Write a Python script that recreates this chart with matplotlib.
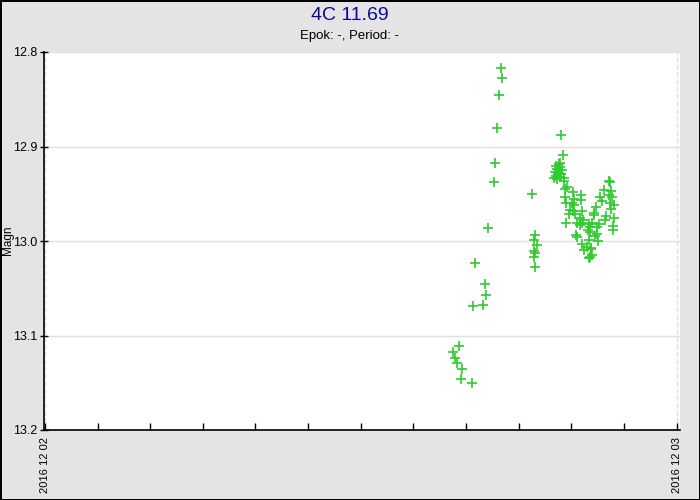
import matplotlib
matplotlib.use("Agg")
import matplotlib.pyplot as plt
import matplotlib.dates as mdates
import numpy as np
import datetime as dt

plt.rcParams['font.family'] = ['Liberation Sans', 'DejaVu Sans']

title = "4C 11.69"
subtitle = "Epok: -, Period: -"
ylabel = "Magn"
start_day = dt.datetime(2016, 12, 2)
x_tick_labels = ["2016 12 02", "2016 12 03"]
y_ticks = [12.8, 12.9, 13.0, 13.1, 13.2]

# hours after 2016-12-02 00:00 (UT)
hours = [
    15.72, 15.49, 15.57, 15.64, 15.83, 15.79, 16.21,
    16.33, 16.71, 16.74, 16.25, 16.63, 16.82,
    17.05, 17.09, 17.16, 17.24, 17.31, 17.38,
    18.49, 18.63, 18.57, 18.68, 18.56, 18.61, 18.57, 18.61,
    19.62,
    19.67, 19.58, 19.51, 19.43, 19.58, 19.47, 19.54, 19.66, 19.39, 19.51,
    19.62, 19.43, 19.35, 19.47, 19.58, 19.71, 19.70, 19.84, 19.74, 20.07,
    20.36, 19.74, 20.09, 20.37, 19.78, 20.01, 20.11, 19.94, 20.07, 20.39,
    19.89, 20.15, 20.31, 20.44, 19.81, 20.22, 20.40, 20.67, 20.77, 20.31,
    20.69, 20.62, 20.72, 20.16, 20.23, 20.65, 20.39, 20.59, 20.49, 20.75,
    20.69, 20.79, 20.66,
    21.44, 21.51, 21.23, 21.08, 21.42, 21.55, 21.47, 21.60, 21.52, 20.94,
    20.86, 20.84, 21.30, 21.27, 21.60, 21.57, 21.57, 21.04, 20.99, 20.96,
    20.91, 21.01, 20.76, 21.45, 21.18,
]
magn = [
    13.111, 13.117, 13.124, 13.129, 13.135, 13.146, 13.150,
    13.023, 13.045, 13.057, 13.069, 13.068, 12.986,
    12.938, 12.917, 12.880, 12.846, 12.817, 12.828,
    12.950, 12.994, 12.999, 13.004, 13.011, 13.013, 13.017, 13.027,
    12.888,
    12.909, 12.917, 12.919, 12.921, 12.922, 12.924, 12.925, 12.925, 12.927, 12.928,
    12.929, 12.931, 12.933, 12.934, 12.932, 12.933, 12.937, 12.943, 12.945, 12.948,
    12.951, 12.953, 12.956, 12.957, 12.960, 12.960, 12.962, 12.967, 12.968, 12.968,
    12.971, 12.971, 12.976, 12.978, 12.981, 12.981, 12.981, 12.982, 12.981, 12.983,
    12.985, 12.988, 12.991, 12.994, 12.996, 12.999, 13.003, 13.006, 13.009, 13.008,
    13.017, 13.015, 13.018,
    12.937, 12.947, 12.946, 12.953, 12.951, 12.953, 12.960, 12.962, 12.966, 12.964,
    12.970, 12.972, 12.974, 12.978, 12.976, 12.984, 12.988, 12.982, 12.985, 12.993,
    12.995, 13.000, 13.007, 12.938, 12.958,
]

times = [start_day + dt.timedelta(hours=h) for h in hours]

fig = plt.figure(figsize=(7, 5), dpi=100, facecolor='#e4e4e4',
                 edgecolor='black', linewidth=2)
ax = fig.add_axes([0.063, 0.14, 0.909, 0.756])
ax.set_facecolor('white')

ax.plot(times, magn, linestyle='none', marker='+', markersize=7,
        markeredgewidth=1.2, color='#2ecc2e', zorder=3)

ax.set_ylim(13.2, 12.8)
ax.set_yticks(y_ticks)
ax.set_yticklabels([f"{v:.1f}" for v in y_ticks], fontsize=9)
ax.set_xlim(start_day - dt.timedelta(hours=0.03),
            start_day + dt.timedelta(hours=24.14))
ax.set_xticks([start_day, start_day + dt.timedelta(days=1)])
ax.set_xticklabels(x_tick_labels, rotation=90, fontsize=8)
ax.xaxis.set_minor_locator(mdates.HourLocator(byhour=range(0, 24, 2)))

for s in ['top', 'right']:
    ax.spines[s].set_visible(False)
for s in ['left', 'bottom']:
    ax.spines[s].set_linewidth(1.2)
    ax.spines[s].set_color('black')

ax.tick_params(axis='x', which='both', direction='in', length=5, width=1, pad=5)
ax.tick_params(axis='y', which='both', direction='inout', length=6, width=1, pad=2)

ax.grid(axis='y', color='#e0e0e0', linewidth=1, linestyle='-')
ax.grid(axis='x', which='major', color='#e0e0e0', linewidth=1, linestyle='--')
ax.set_axisbelow(True)

fig.text(0.5, 0.969, title, ha='center', va='center', fontsize=14, color='#0a0a99')
fig.text(0.5, 0.928, subtitle, ha='center', va='center', fontsize=9.5, color='black')
fig.text(0.012, 0.52, ylabel, ha='center', va='center', rotation=90, fontsize=8.5)

fig.savefig("out.png", dpi=100, facecolor=fig.get_facecolor(), edgecolor=fig.get_edgecolor())
